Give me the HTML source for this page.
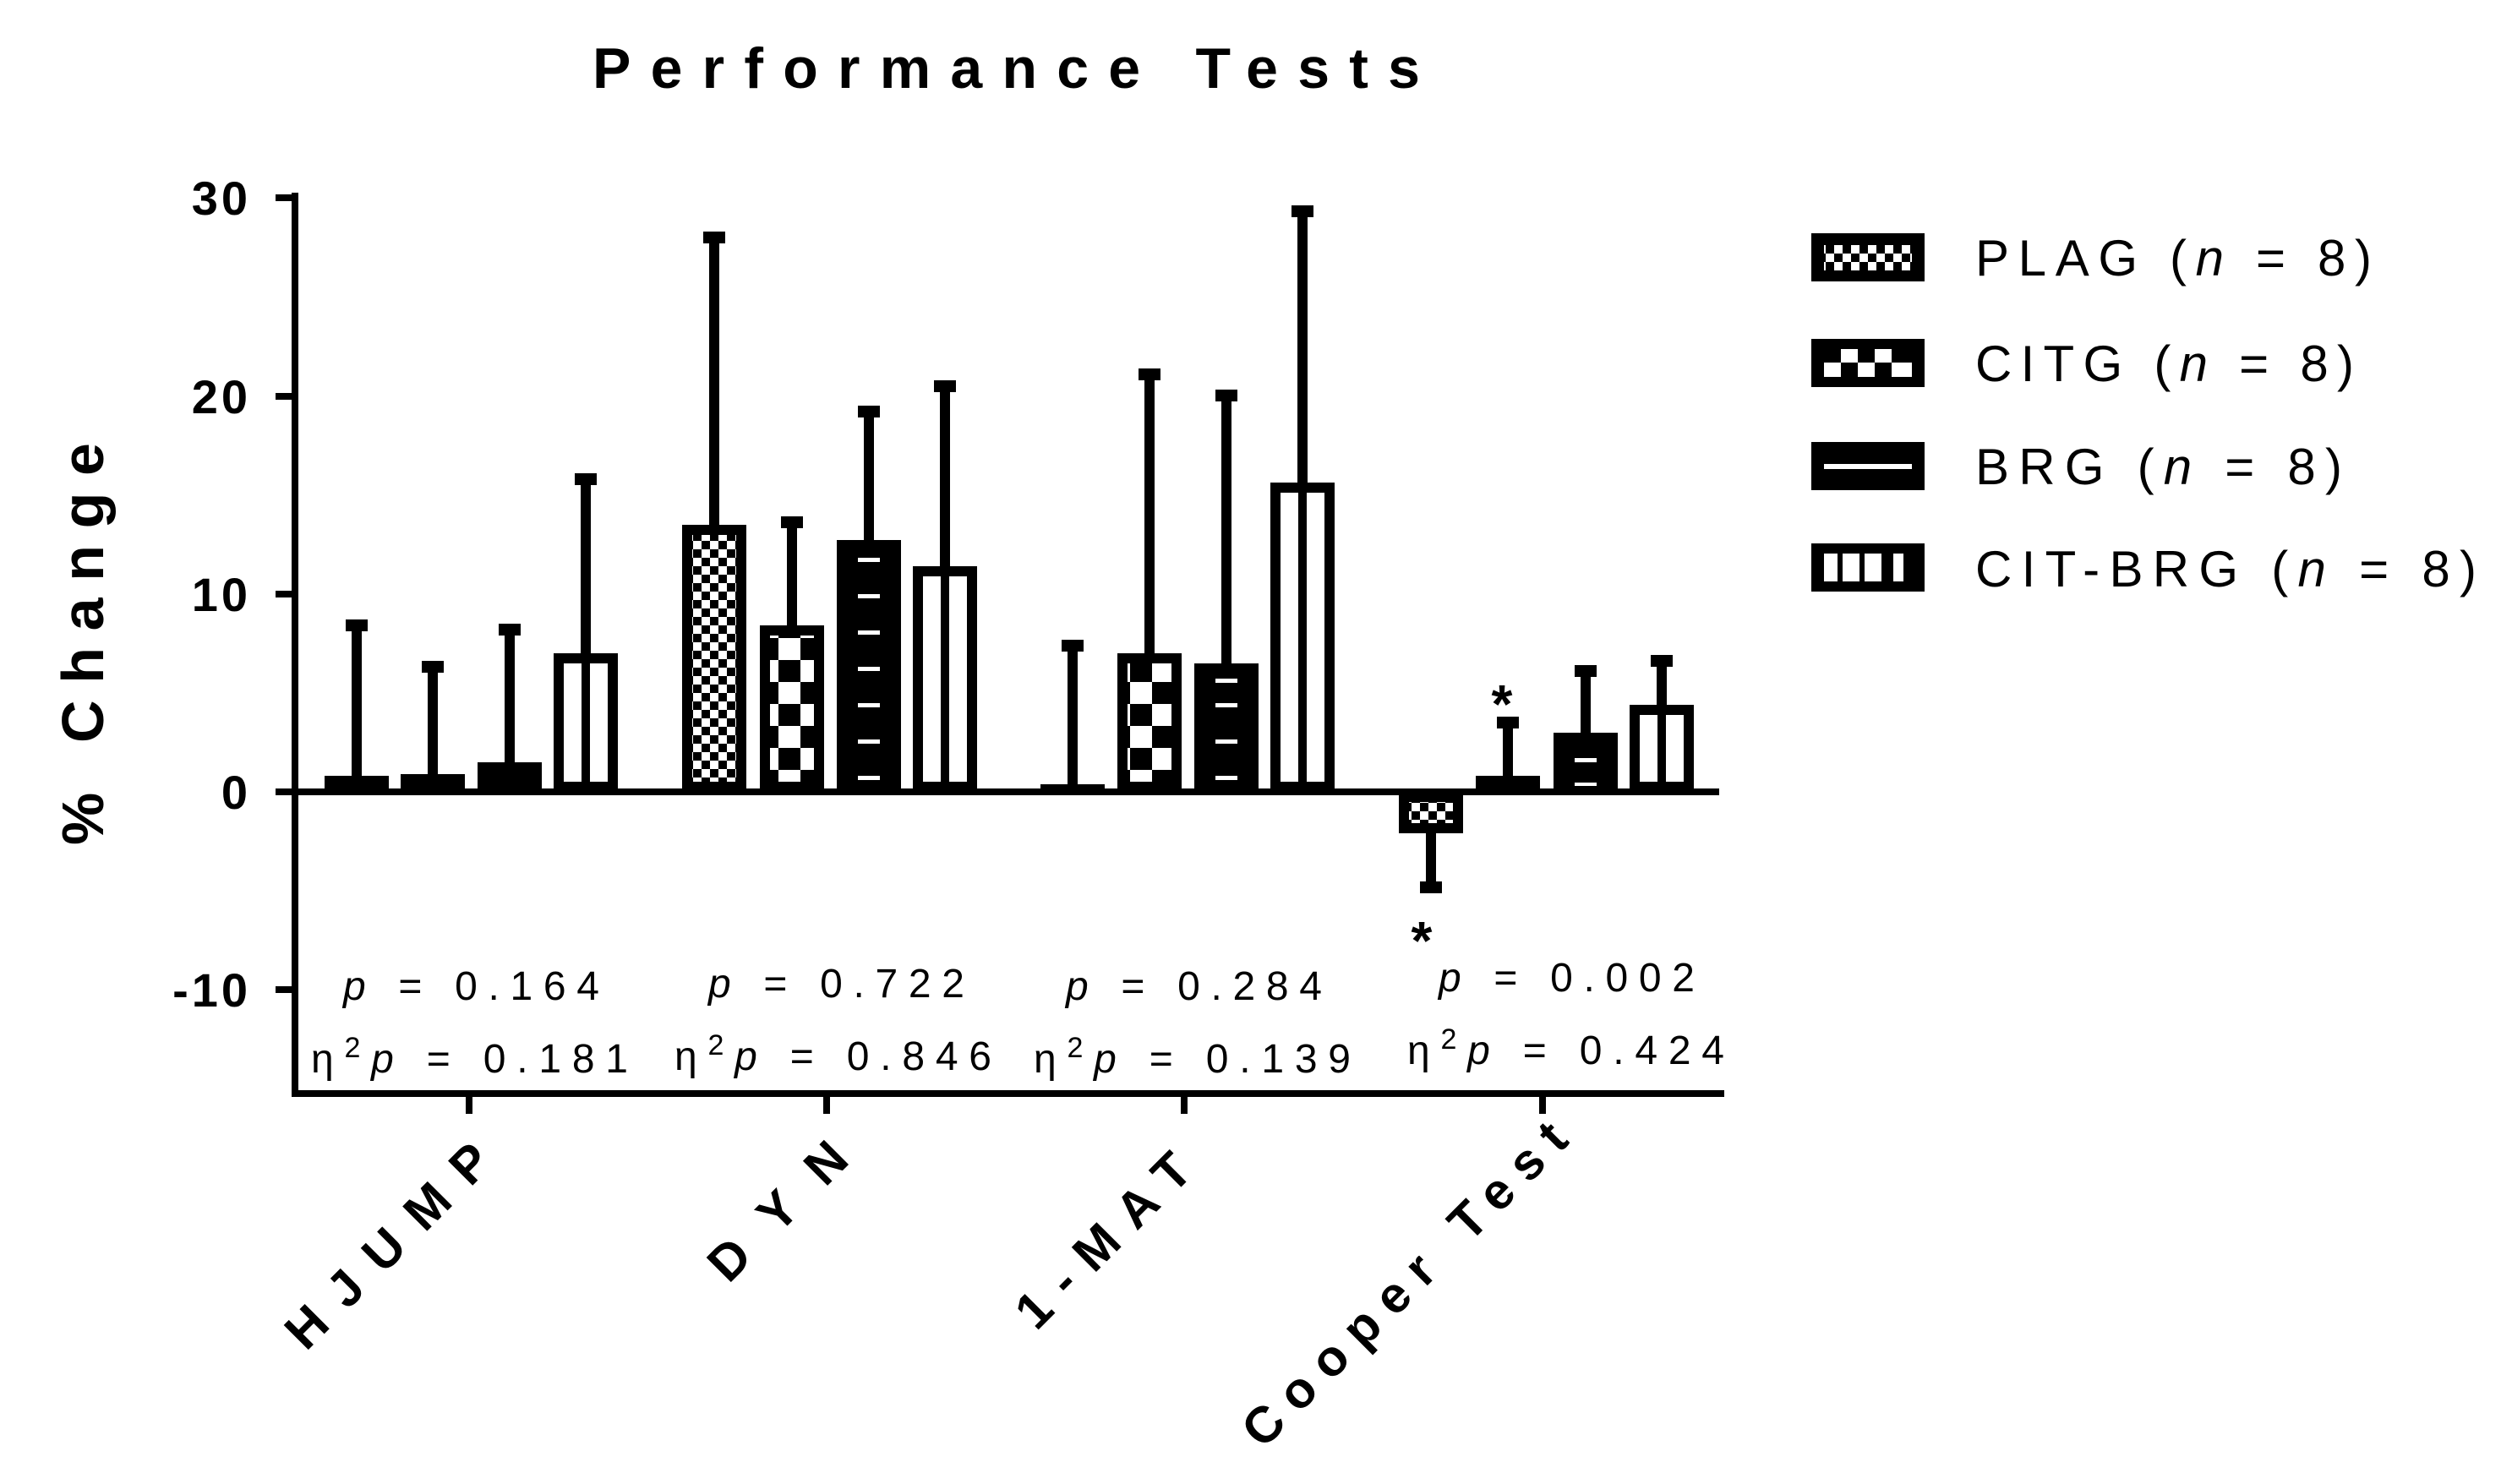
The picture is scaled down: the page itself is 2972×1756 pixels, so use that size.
<!DOCTYPE html>
<html><head><meta charset="utf-8"><style>html,body{margin:0;padding:0;background:#fff}svg{display:block}</style></head>
<body>
<svg width="2972" height="1756" viewBox="0 0 2972 1756" xmlns="http://www.w3.org/2000/svg" font-family="Liberation Sans, Arial, sans-serif">
<defs>
<pattern id="plag" patternUnits="userSpaceOnUse" width="20" height="20"><rect width="20" height="20" fill="#000"/><rect width="10" height="10" fill="#fff"/><rect x="10" y="10" width="10" height="10" fill="#fff"/></pattern>
<pattern id="citg" patternUnits="userSpaceOnUse" width="52" height="52" x="11" y="1"><rect width="52" height="52" fill="#000"/><rect width="26" height="26" fill="#fff"/><rect x="26" y="26" width="26" height="26" fill="#fff"/></pattern>
</defs>
<rect width="2972" height="1756" fill="#fff"/>
<text x="701" y="104" font-size="68" font-weight="bold" textLength="979" lengthAdjust="spacing">Performance Tests</text>

<g fill="#000">
<rect x="416" y="740" width="12" height="180"/><rect x="409" y="733" width="26" height="14"/>
<rect x="384" y="918" width="76" height="19"/>
<rect x="506" y="789" width="12" height="130"/><rect x="499" y="782" width="26" height="14"/>
<rect x="474" y="916" width="76" height="21"/>
<rect x="597" y="745" width="12" height="160"/><rect x="590" y="738" width="26" height="14"/>
<rect x="565" y="902" width="76" height="35"/>
<rect x="687" y="567" width="12" height="210"/><rect x="680" y="560" width="26" height="14"/>
<rect x="655" y="773" width="76" height="164"/><rect x="667" y="785" width="52" height="140" fill="#fff"/><rect x="688" y="785" width="10" height="140"/>
<rect x="839" y="281" width="12" height="342"/><rect x="832" y="274" width="26" height="14"/>
<rect x="807" y="621" width="76" height="316"/><rect x="819" y="633" width="52" height="292" fill="url(#plag)"/>
<rect x="931" y="618" width="12" height="124"/><rect x="924" y="611" width="26" height="14"/>
<rect x="899" y="740" width="76" height="197"/><rect x="911" y="752" width="52" height="173" fill="url(#citg)"/>
<rect x="1022" y="487" width="12" height="155"/><rect x="1015" y="480" width="26" height="14"/>
<rect x="990" y="639" width="76" height="298"/>
<g fill="#fff"><rect x="1015" y="918" width="26" height="5"/><rect x="1015" y="875" width="26" height="5"/><rect x="1015" y="832" width="26" height="5"/><rect x="1015" y="789" width="26" height="5"/><rect x="1015" y="746" width="26" height="5"/><rect x="1015" y="703" width="26" height="5"/><rect x="1015" y="660" width="26" height="5"/></g>
<rect x="1112" y="457" width="12" height="215"/><rect x="1105" y="450" width="26" height="14"/>
<rect x="1080" y="670" width="76" height="267"/><rect x="1092" y="682" width="52" height="243" fill="#fff"/><rect x="1113" y="682" width="10" height="243"/>
<rect x="1263" y="764" width="12" height="168"/><rect x="1256" y="757" width="26" height="14"/>
<rect x="1231" y="928" width="76" height="9"/>
<rect x="1354" y="443" width="12" height="332"/><rect x="1347" y="436" width="26" height="14"/>
<rect x="1322" y="773" width="76" height="164"/><rect x="1334" y="785" width="52" height="140" fill="url(#citg)"/>
<rect x="1445" y="468" width="12" height="320"/><rect x="1438" y="461" width="26" height="14"/>
<rect x="1413" y="785" width="76" height="152"/>
<g fill="#fff"><rect x="1438" y="918" width="26" height="5"/><rect x="1438" y="875" width="26" height="5"/><rect x="1438" y="832" width="26" height="5"/><rect x="1438" y="803" width="26" height="5"/></g>
<rect x="1535" y="250" width="12" height="324"/><rect x="1528" y="243" width="26" height="14"/>
<rect x="1503" y="571" width="76" height="366"/><rect x="1515" y="583" width="52" height="342" fill="#fff"/><rect x="1536" y="583" width="10" height="342"/>
<rect x="1687" y="984" width="12" height="66"/><rect x="1680" y="1043" width="26" height="14"/>
<rect x="1655" y="937" width="76" height="49"/><rect x="1667" y="949" width="52" height="25" fill="url(#plag)"/>
<rect x="1778" y="855" width="12" height="65"/><rect x="1771" y="848" width="26" height="14"/>
<rect x="1746" y="918" width="76" height="19"/>
<rect x="1870" y="794" width="12" height="75"/><rect x="1863" y="787" width="26" height="14"/>
<rect x="1838" y="867" width="76" height="70"/>
<g fill="#fff"><rect x="1863" y="926" width="26" height="4"/><rect x="1863" y="897" width="26" height="5"/></g>
<rect x="1960" y="782" width="12" height="54"/><rect x="1953" y="775" width="26" height="14"/>
<rect x="1928" y="834" width="76" height="103"/><rect x="1940" y="846" width="52" height="79" fill="#fff"/><rect x="1961" y="846" width="10" height="79"/>
</g>

<line x1="349" y1="228" x2="349" y2="1298" stroke="#000" stroke-width="8"/>
<line x1="345" y1="1294" x2="2040" y2="1294" stroke="#000" stroke-width="8"/>
<line x1="349" y1="937" x2="2034" y2="937" stroke="#000" stroke-width="8"/>
<g stroke="#000" stroke-width="8">
<line x1="326" y1="234" x2="349" y2="234"/><line x1="326" y1="469" x2="349" y2="469"/><line x1="326" y1="703" x2="349" y2="703"/><line x1="326" y1="937" x2="349" y2="937"/><line x1="326" y1="1171" x2="349" y2="1171"/>
<line x1="555" y1="1294" x2="555" y2="1318"/><line x1="978" y1="1294" x2="978" y2="1318"/><line x1="1401" y1="1294" x2="1401" y2="1318"/><line x1="1825" y1="1294" x2="1825" y2="1318"/>
</g>
<g font-size="56" font-weight="bold" text-anchor="end" letter-spacing="4">
<text x="297" y="254">30</text><text x="297" y="489">20</text><text x="297" y="723">10</text><text x="297" y="957">0</text><text x="297" y="1191">-10</text>
</g>
<text transform="translate(122,1000) rotate(-90)" font-size="70" font-weight="bold" textLength="476" lengthAdjust="spacing">% Change</text>
<g font-size="60" font-weight="bold">
<text transform="translate(362,1600) rotate(-45)" textLength="315" lengthAdjust="spacing">HJUMP</text>
<text transform="translate(862,1520) rotate(-45)" textLength="205" lengthAdjust="spacing">DYN</text>
<text transform="translate(1226,1576) rotate(-45)" textLength="265" lengthAdjust="spacing">1-MAT</text>
<text transform="translate(1494,1716) rotate(-45)" textLength="515" lengthAdjust="spacing">Cooper Test</text>
</g>
<g font-size="48">
<text x="406" y="1183" textLength="303" lengthAdjust="spacing"><tspan font-style="italic">p</tspan> = 0.164</text>
<text x="368" y="1269" textLength="375" lengthAdjust="spacing">η<tspan dy="-18" font-size="34">2</tspan><tspan dy="18" font-style="italic">p</tspan> = 0.181</text>
<text x="838" y="1180" textLength="303" lengthAdjust="spacing"><tspan font-style="italic">p</tspan> = 0.722</text>
<text x="798" y="1266" textLength="375" lengthAdjust="spacing">η<tspan dy="-18" font-size="34">2</tspan><tspan dy="18" font-style="italic">p</tspan> = 0.846</text>
<text x="1261" y="1183" textLength="303" lengthAdjust="spacing"><tspan font-style="italic">p</tspan> = 0.284</text>
<text x="1223" y="1269" textLength="375" lengthAdjust="spacing">η<tspan dy="-18" font-size="34">2</tspan><tspan dy="18" font-style="italic">p</tspan> = 0.139</text>
<text x="1702" y="1173" textLength="303" lengthAdjust="spacing"><tspan font-style="italic">p</tspan> = 0.002</text>
<text x="1665" y="1259" textLength="375" lengthAdjust="spacing">η<tspan dy="-18" font-size="34">2</tspan><tspan dy="18" font-style="italic">p</tspan> = 0.424</text>
</g>
<g font-size="64" font-weight="bold" text-anchor="middle"><text x="1777" y="855">*</text><text x="1682" y="1135">*</text></g>
<g>
<rect x="2143" y="276" width="134" height="57" fill="#000"/><rect x="2158" y="290" width="104" height="30" fill="url(#plag)"/>
<rect x="2143" y="401" width="134" height="57" fill="#000"/>
<rect x="2178" y="413" width="20" height="16" fill="#fff"/><rect x="2218" y="413" width="20" height="16" fill="#fff"/>
<rect x="2158" y="429" width="20" height="17" fill="#fff"/><rect x="2198" y="429" width="20" height="17" fill="#fff"/><rect x="2238" y="429" width="24" height="17" fill="#fff"/>
<rect x="2143" y="523" width="134" height="57" fill="#000"/><rect x="2158" y="549" width="104" height="6" fill="#fff"/>
<rect x="2143" y="643" width="134" height="57" fill="#000"/>
<rect x="2158" y="655" width="16" height="33" fill="#fff"/><rect x="2180" y="655" width="20" height="33" fill="#fff"/><rect x="2206" y="655" width="20" height="33" fill="#fff"/><rect x="2240" y="655" width="12" height="33" fill="#fff"/>
</g>
<g font-size="60">
<text x="2337" y="326" textLength="469" lengthAdjust="spacing">PLAG (<tspan font-style="italic">n</tspan> = 8)</text>
<text x="2337" y="451" textLength="448" lengthAdjust="spacing">CITG (<tspan font-style="italic">n</tspan> = 8)</text>
<text x="2337" y="573" textLength="434" lengthAdjust="spacing">BRG (<tspan font-style="italic">n</tspan> = 8)</text>
<text x="2337" y="694" textLength="593" lengthAdjust="spacing">CIT-BRG (<tspan font-style="italic">n</tspan> = 8)</text>
</g>
</svg>
</body></html>
